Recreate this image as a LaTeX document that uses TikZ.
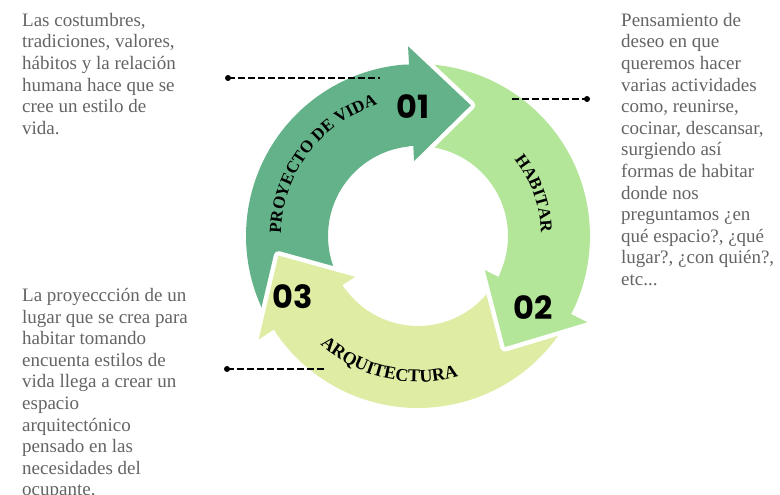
\documentclass[tikz,border=0pt]{standalone}
\usepackage{fontspec}
\setmainfont{Liberation Serif}
\newfontfamily\numfont{Poppins}
\usetikzlibrary{decorations.text}
\definecolor{vidagreen}{RGB}{100,178,137}
\definecolor{habitargreen}{RGB}{179,230,153}
\definecolor{arquiyellow}{RGB}{222,236,164}
\definecolor{notegray}{RGB}{100,100,100}

\begin{document}
\begin{tikzpicture}[x=1pt, y=1pt,
  note/.style={anchor=north west, inner sep=0pt, align=left, text=notegray, font=\fontsize{19}{21.6}\selectfont},
  num/.style={font=\numfont\bfseries\fontsize{32}{32}\selectfont},
  dot/.style={circle, fill=black, inner sep=0pt, minimum size=6pt},
  leader/.style={line width=1.4pt, dash pattern=on 7pt off 3pt},
  headrim/.style={preaction={draw=white, line width=9pt, line join=round}}]
\useasboundingbox (0,0) rectangle (780,495);
\begin{scope}[shift={(418,259)}]
\fill[vidagreen] (207:90) arc[start angle=207, end angle=92, radius=90] -- (92:172) arc[start angle=92, end angle=207, radius=172] -- cycle;
\fill[habitargreen] (87:90) arc[start angle=87, end angle=-28, radius=90] -- (-28:172) arc[start angle=-28, end angle=87, radius=172] -- cycle;
\fill[arquiyellow] (-33:90) arc[start angle=-33, end angle=-148, radius=90] -- (-148:172) arc[start angle=-148, end angle=-33, radius=172] -- cycle;
\path[fill=vidagreen, headrim] (93:172) -- (93:190) -- (68:141) -- (93:75) -- (93:90);
\path[fill=habitargreen, headrim] (-27:172) -- (-27:190) -- (-52:141) -- (-27:75) -- (-27:90);
\path[fill=arquiyellow, headrim] (213:172) -- (213:190) -- (188:141) -- (213:75) -- (213:90);
\path[decorate, decoration={text along path, text align=center, text={|\bfseries\fontsize{17}{17}\selectfont|PROYECTO DE VIDA}}] (186:137) arc[start angle=186, end angle=100, radius=137];
\path[decorate, decoration={text along path, text align=center, text={|\bfseries\fontsize{17}{17}\selectfont|HABITAR}}] (50:123) arc[start angle=50, end angle=-10, radius=123];
\path[decorate, decoration={text along path, text align=center, text={|\bfseries\fontsize{18}{18}\selectfont|ARQUITECTURA}}] (217:146) arc[start angle=217, end angle=297, radius=146];
\end{scope}
\node[num] (uno) at (413,388) {01};
\node[num] (dos) at (533,187) {02};
\node[num] (tres) at (293,198) {03};
\node[dot] (puntouno) at (228,417) {};
\coordinate (finuno) at (380,417);
\draw[leader] (puntouno.center) -- (finuno);
\node[dot] (puntodos) at (587,396) {};
\coordinate (findos) at (512,396);
\draw[leader] (findos) -- (puntodos.center);
\node[dot] (puntotres) at (227,126) {};
\coordinate (fintres) at (325,126);
\draw[leader] (puntotres.center) -- (fintres);
\node[note] (notauno) at (22,482) {Las costumbres,\\ tradiciones, valores,\\ hábitos y la relación\\ humana hace que se\\ cree un estilo de\\ vida.};
\node[note] (notados) at (621,482) {Pensamiento de\\ deseo en que\\ queremos hacer\\ varias actividades\\ como, reunirse,\\ cocinar, descansar,\\ surgiendo así\\ formas de habitar\\ donde nos\\ preguntamos ¿en\\ qué espacio?, ¿qué\\ lugar?, ¿con quién?,\\ etc...};
\node[note] (notatres) at (22,207) {La proyeccción de un\\ lugar que se crea para\\ habitar tomando\\ encuenta estilos de\\ vida llega a crear un\\ espacio\\ arquitectónico\\ pensado en las\\ necesidades del\\ ocupante.};
\end{tikzpicture}
\end{document}
